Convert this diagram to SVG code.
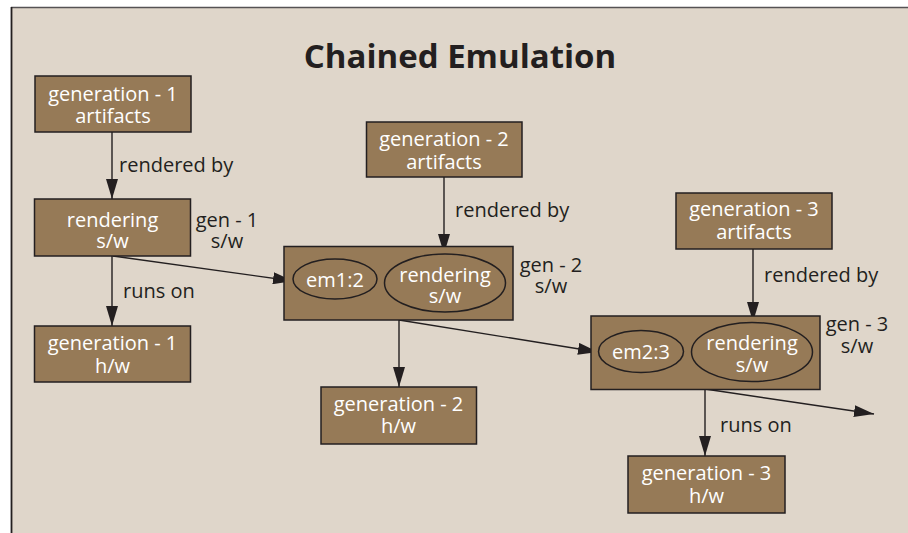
<svg xmlns="http://www.w3.org/2000/svg" width="908" height="533" viewBox="0 0 908 533">
<defs>
<style>
.box{fill:#967A57;stroke:#231F20;stroke-width:1.5}
.ell{fill:none;stroke:#231F20;stroke-width:1.5}
.nt{font-family:"Open Sans","Liberation Sans",sans-serif;font-size:20px;fill:#FFFFFF;text-anchor:middle}
.lb{font-family:"Open Sans","Liberation Sans",sans-serif;font-size:20px;fill:#231F20}
.lbc{font-family:"Open Sans","Liberation Sans",sans-serif;font-size:20px;fill:#231F20;text-anchor:middle}
.title{font-family:"Open Sans","Liberation Sans",sans-serif;font-size:33px;font-weight:bold;fill:#231F20;text-anchor:middle}
.edge{fill:none;stroke:#231F20;stroke-width:1.4}
</style>
<marker id="arr" markerUnits="userSpaceOnUse" markerWidth="20" markerHeight="12" refX="20" refY="6" orient="auto">
<path d="M0,0 L20,6 L0,12 z" fill="#231F20"/>
</marker>
</defs>
<rect x="0" y="0" width="908" height="533" fill="#FFFFFF"/>
<rect x="11" y="7" width="897" height="526" fill="#DFD6CA"/>
<line x1="11" y1="7.5" x2="908" y2="7.5" stroke="#555254" stroke-width="1.6"/>
<line x1="11.5" y1="7" x2="11.5" y2="533" stroke="#231F20" stroke-width="1.8"/>
<text class="title" x="460" y="68">Chained Emulation</text>

<g id="connectors">
<line class="edge" x1="112" y1="132" x2="112" y2="199" marker-end="url(#arr)"/>
<line class="edge" x1="112" y1="256" x2="112" y2="326" marker-end="url(#arr)"/>
<line class="edge" x1="113" y1="256" x2="293" y2="281" marker-end="url(#arr)"/>
<line class="edge" x1="444" y1="177" x2="444" y2="254" marker-end="url(#arr)"/>
<line class="edge" x1="399" y1="320" x2="399" y2="387" marker-end="url(#arr)"/>
<line class="edge" x1="399" y1="320" x2="598" y2="352" marker-end="url(#arr)"/>
<line class="edge" x1="753" y1="249" x2="753" y2="322" marker-end="url(#arr)"/>
<line class="edge" x1="705" y1="389" x2="705" y2="456" marker-end="url(#arr)"/>
<line class="edge" x1="705" y1="389" x2="874" y2="414" marker-end="url(#arr)"/>
<text class="lb" x="119" y="171.5">rendered by</text>
<text class="lb" x="123" y="298">runs on</text>
<text class="lb" x="455" y="216.5">rendered by</text>
<text class="lb" x="764" y="281.5">rendered by</text>
<text class="lb" x="720" y="431.5">runs on</text>
</g>

<g id="gen1-artifacts">
<rect class="box" x="35" y="76" width="156" height="56"/>
<text class="nt" x="113" y="100.5">generation - 1<tspan x="113" dy="22.5">artifacts</tspan></text>
</g>

<g id="gen1-sw">
<rect class="box" x="34.5" y="199" width="156" height="57"/>
<text class="nt" x="112.5" y="227">rendering<tspan x="112.5" dy="21">s/w</tspan></text>
<text class="lbc" x="227" y="227">gen - 1<tspan x="227" dy="21">s/w</tspan></text>
</g>

<g id="gen1-hw">
<rect class="box" x="34.5" y="326" width="156" height="56"/>
<text class="nt" x="112.5" y="350">generation - 1<tspan x="112.5" dy="22.5">h/w</tspan></text>
</g>

<g id="gen2-artifacts">
<rect class="box" x="366.5" y="122" width="155.5" height="55"/>
<text class="nt" x="444" y="146">generation - 2<tspan x="444" dy="22.5">artifacts</tspan></text>
</g>

<g id="gen2-sw">
<rect class="box" x="284" y="246.5" width="229" height="73.5"/>
<ellipse class="ell" cx="335" cy="279" rx="42" ry="20"/>
<text class="nt" x="335" y="287">em1:2</text>
<ellipse class="ell" cx="445" cy="283" rx="60.5" ry="29"/>
<text class="nt" x="445" y="281.5">rendering<tspan x="445" dy="21.5">s/w</tspan></text>
<text class="lbc" x="551" y="271.5">gen - 2<tspan x="551" dy="21">s/w</tspan></text>
</g>

<g id="gen2-hw">
<rect class="box" x="321" y="387" width="155.5" height="57"/>
<text class="nt" x="398.5" y="410.5">generation - 2<tspan x="398.5" dy="22.5">h/w</tspan></text>
</g>

<g id="gen3-artifacts">
<rect class="box" x="676" y="193" width="156" height="56"/>
<text class="nt" x="754" y="216">generation - 3<tspan x="754" dy="23">artifacts</tspan></text>
</g>

<g id="gen3-sw">
<rect class="box" x="591" y="316" width="229" height="73.5"/>
<ellipse class="ell" cx="641" cy="351.5" rx="42.5" ry="21"/>
<text class="nt" x="641" y="359">em2:3</text>
<ellipse class="ell" cx="752" cy="352" rx="60.5" ry="29.5"/>
<text class="nt" x="752" y="349.5">rendering<tspan x="752" dy="22">s/w</tspan></text>
<text class="lbc" x="857" y="330.5">gen - 3<tspan x="857" dy="22.5">s/w</tspan></text>
</g>

<g id="gen3-hw">
<rect class="box" x="628" y="456" width="157" height="57"/>
<text class="nt" x="706.5" y="480">generation - 3<tspan x="706.5" dy="22.5">h/w</tspan></text>
</g>
</svg>
